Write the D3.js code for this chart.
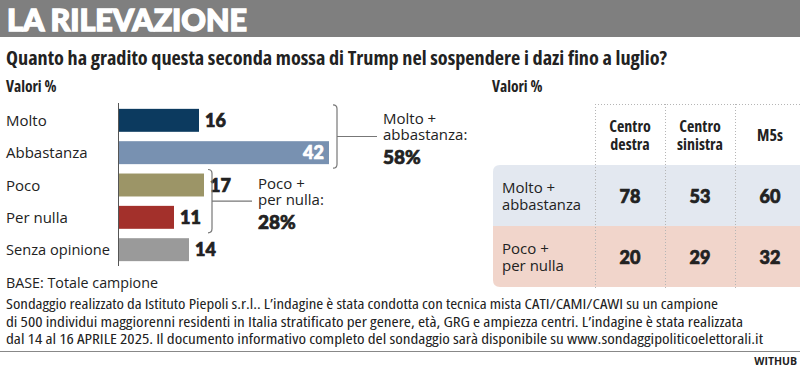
<!DOCTYPE html>
<html>
<head>
<meta charset="utf-8">
<script src="https://cdn.jsdelivr.net/npm/d3@7"></script>
<style>
  body { margin: 0; background: #fff; }
  svg { display: block; }
  text { font-family: "Open Sans", "Noto Sans", sans-serif; fill: #222; }
  .cond { font-stretch: condensed; font-weight: 700; }
  .foot { font-stretch: condensed; }
  .num { font-family: Lato, "DejaVu Sans", sans-serif; font-weight: 900; stroke: #222; stroke-width: 0.7px; }
</style>
</head>
<body>
<svg id="chart" width="800" height="370"></svg>
<script>
// data
const categories = ['Molto', 'Abbastanza', 'Poco', 'Per nulla', 'Senza opinione'];
const values = [16, 42, 17, 11, 14];
const barColors = ['#0c3a5f', '#7891b1', '#9c9567', '#a3302b', '#9a9a9a'];
const groups = [
  { first: 'Molto', last: 'Abbastanza', label: ['Molto +', 'abbastanza:'], total: '58%' },
  { first: 'Poco', last: 'Per nulla', label: ['Poco +', 'per nulla:'], total: '28%' }
];
const columns = [['Centro', 'destra'], ['Centro', 'sinistra'], ['M5s']];
const rows = [['Molto +', 'abbastanza'], ['Poco +', 'per nulla']];
const tableValues = [[78, 53, 60], [20, 29, 32]];
const rowColors = ['#e3e8f0', '#f1d5cb'];
const footer = [
  'Sondaggio realizzato da Istituto Piepoli s.r.l.. L\u2019indagine è stata condotta con tecnica mista CATI/CAMI/CAWI su un campione',
  'di 500 individui maggiorenni residenti in Italia stratificato per genere, età, GRG e ampiezza centri. L\u2019indagine è stata realizzata',
  'dal 14 al 16 APRILE 2025. Il documento informativo completo del sondaggio sarà disponibile su www.sondaggipoliticoelettorali.it'
];

const svg = d3.select('#chart');

// set text to a given width (mimic the condensed newspaper font)
const fit = (sel, w) => sel.attr('textLength', w).attr('lengthAdjust', 'spacingAndGlyphs');
const shrink = (sel, w) => sel.each(function() {
  if (this.getComputedTextLength() > w) d3.select(this).call(fit, w);
});

// header band
svg.append('rect').attr('x', 0).attr('y', 0).attr('width', 800).attr('height', 37).attr('fill', '#7f7f7f');
svg.append('text').attr('class', 'num').attr('x', 7).attr('y', 31)
  .style('font-size', '31px').style('fill', '#fff').style('stroke', '#fff').style('stroke-width', '1.4px')
  .text('LA RILEVAZIONE').call(fit, 240);

svg.append('text').attr('class', 'cond').attr('x', 6).attr('y', 65)
  .style('font-size', '19px')
  .text('Quanto ha gradito questa seconda mossa di Trump nel sospendere i dazi fino a luglio?').call(fit, 661);

[6, 492].forEach(x => {
  svg.append('text').attr('class', 'cond').attr('x', x).attr('y', 92)
    .style('font-size', '15.5px').text('Valori %');
});

// bar chart
const x = d3.scaleLinear().domain([0, 42]).range([119, 329]);
const y = d3.scaleBand().domain(categories).range([104, 266]).paddingInner(0.29).paddingOuter(0.15);

const bars = svg.append('g');
bars.selectAll('rect').data(values).join('rect')
  .attr('x', x(0))
  .attr('y', (d, i) => y(categories[i]))
  .attr('width', d => x(d) - x(0))
  .attr('height', y.bandwidth())
  .attr('fill', (d, i) => barColors[i]);

svg.append('line')
  .attr('x1', x(0) - 0.5).attr('x2', x(0) - 0.5)
  .attr('y1', 103).attr('y2', 266)
  .attr('stroke', '#555').attr('stroke-width', 1);

bars.selectAll('text.cat').data(categories).join('text')
  .attr('class', 'cat')
  .attr('x', 6)
  .attr('y', d => y(d) + y.bandwidth() / 2 + 5.5)
  .style('font-size', '15px')
  .text(d => d).call(shrink, 104);

const inside = d => d === d3.max(values);
bars.selectAll('text.num').data(values).join('text')
  .attr('class', 'num')
  .attr('x', d => inside(d) ? x(d) - 5 : x(d) + 6)
  .attr('y', (d, i) => y(categories[i]) + y.bandwidth() / 2 + 6.5)
  .attr('text-anchor', d => inside(d) ? 'end' : 'start')
  .style('font-size', '18px')
  .style('fill', d => inside(d) ? '#fff' : '#222')
  .style('stroke', d => inside(d) ? '#fff' : '#222')
  .text(d => d);

// brackets
groups.forEach(g => {
  const i0 = categories.indexOf(g.first), i1 = categories.indexOf(g.last);
  const top = y(g.first) - 4, bot = y(g.last) + y.bandwidth() + 4;
  const bx = x(d3.max(values.slice(i0, i1 + 1))) + 8;
  const mid = (top + bot) / 2;
  svg.append('path')
    .attr('d', `M${bx - 4},${top}Q${bx},${top} ${bx},${top + 4}V${bot - 4}Q${bx},${bot} ${bx - 4},${bot}M${bx},${mid}H${bx + 40}`)
    .attr('fill', 'none').attr('stroke', '#777').attr('stroke-width', 1.2);
  g.label.forEach((t, i) => {
    svg.append('text').attr('x', bx + 46).attr('y', mid - 12 + i * 16)
      .style('font-size', '15px').text(t);
  });
  svg.append('text').attr('class', 'num').attr('x', bx + 46).attr('y', mid + 28)
    .style('font-size', '19px').text(g.total);
});

svg.append('text').attr('x', 6).attr('y', 288)
  .style('font-size', '15px').text('BASE: Totale campione').call(shrink, 152);

// table
const cx = d3.scaleBand().domain(columns.map(c => c.join(' '))).range([595, 805]);
const ry = d3.scaleBand().domain(rows.map(r => r.join(' '))).range([165, 287]);

const table = svg.append('g');
rows.forEach((r, i) => {
  const key = r.join(' ');
  const y0 = ry(key), h = ry.bandwidth(), x0 = 493, rad = 7;
  const path = i === 0
    ? `M${x0},${y0 + rad}Q${x0},${y0} ${x0 + rad},${y0}H800V${y0 + h}H${x0}Z`
    : `M${x0},${y0}H800V${y0 + h}H${x0 + rad}Q${x0},${y0 + h} ${x0},${y0 + h - rad}Z`;
  table.append('path').attr('d', path).attr('fill', rowColors[i]);
  r.forEach((t, j) => {
    table.append('text').attr('x', 502).attr('y', y0 + h / 2 - 3 + j * 17)
      .style('font-size', '15px').text(t).call(shrink, 79);
  });
  tableValues[i].forEach((v, j) => {
    const c = columns[j].join(' ');
    table.append('text').attr('class', 'num')
      .attr('x', cx(c) + cx.bandwidth() / 2)
      .attr('y', y0 + h / 2 + 7)
      .attr('text-anchor', 'middle')
      .style('font-size', '18px').text(v);
  });
});

// dotted grid of the table
const grid = table.append('g').attr('stroke', '#b5b5b5').attr('stroke-width', 1).attr('stroke-dasharray', '1,2');
grid.append('line').attr('x1', cx.range()[0]).attr('x2', 800).attr('y1', 104.5).attr('y2', 104.5);
columns.forEach(c => {
  const xx = Math.round(cx(c.join(' '))) + 0.5;
  grid.append('line').attr('x1', xx).attr('x2', xx).attr('y1', 104).attr('y2', 288);
});

columns.forEach(c => {
  const key = c.join(' ');
  c.forEach((t, j) => {
    table.append('text').attr('class', 'cond')
      .attr('x', cx(key) + cx.bandwidth() / 2)
      .attr('y', 141 + (j - (c.length - 1) / 2) * 18)
      .attr('text-anchor', 'middle')
      .style('font-size', '16px').text(t);
  });
});

// footer
svg.selectAll('text.foot').data(footer).join('text')
  .attr('class', 'foot')
  .attr('x', 6)
  .attr('y', (d, i) => 309 + i * 17.5)
  .style('font-size', '14px')
  .text(d => d)
  .each(function(d, i) { d3.select(this).call(fit, [712, 737, 757][i]); });

svg.append('line').attr('x1', 0).attr('x2', 800).attr('y1', 351.5).attr('y2', 351.5)
  .attr('stroke', '#888').attr('stroke-width', 1);
svg.append('text').attr('x', 797).attr('y', 365).attr('text-anchor', 'end')
  .style('font-size', '10.5px').style('font-weight', 700).text('WITHUB');
</script>
</body>
</html>
